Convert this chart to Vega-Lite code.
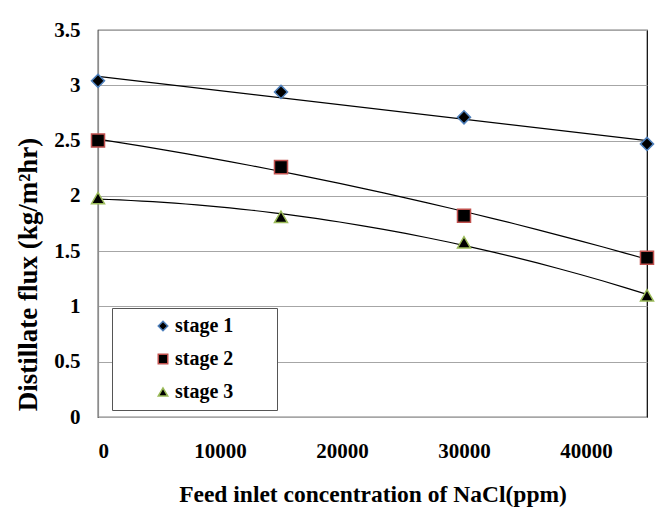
{
  "$schema": "https://vega.github.io/schema/vega-lite/v6.json",
  "width": 549,
  "height": 387,
  "autosize": {"type": "none"},
  "padding": {"left": 98, "top": 30, "right": 9, "bottom": 94},
  "background": "white",
  "config": {
    "font": "Liberation Serif",
    "view": {"stroke": "#000", "strokeWidth": 1.2},
    "axis": {
      "labelFont": "Liberation Serif",
      "labelFontWeight": "bold",
      "labelFontSize": 21,
      "labelColor": "#000",
      "titleFont": "Liberation Serif",
      "titleFontWeight": "bold",
      "titleColor": "#000",
      "ticks": false,
      "tickSize": 0
    },
    "legend": {
      "labelFont": "Liberation Serif",
      "labelFontWeight": "bold",
      "labelFontSize": 20,
      "labelColor": "#000"
    }
  },
  "data": {
    "values": [
      {"stage": "stage 1", "conc": 0, "flux": 3.04},
      {"stage": "stage 1", "conc": 15000, "flux": 2.94},
      {"stage": "stage 1", "conc": 30000, "flux": 2.71},
      {"stage": "stage 1", "conc": 45000, "flux": 2.47},
      {"stage": "stage 2", "conc": 0, "flux": 2.5},
      {"stage": "stage 2", "conc": 15000, "flux": 2.26},
      {"stage": "stage 2", "conc": 30000, "flux": 1.82},
      {"stage": "stage 2", "conc": 45000, "flux": 1.44},
      {"stage": "stage 3", "conc": 0, "flux": 1.98},
      {"stage": "stage 3", "conc": 15000, "flux": 1.81},
      {"stage": "stage 3", "conc": 30000, "flux": 1.58},
      {"stage": "stage 3", "conc": 45000, "flux": 1.1}
    ]
  },
  "encoding": {
    "x": {
      "field": "conc",
      "type": "quantitative",
      "scale": {"domain": [0, 45000], "nice": false, "zero": false},
      "axis": {
        "title": "Feed inlet concentration  of NaCl(ppm)",
        "titleFontSize": 23.5,
        "titleBaseline": "middle",
        "titleY": 77,
        "values": [0, 10000, 20000, 30000, 40000],
        "format": "d",
        "grid": false,
        "domain": false,
        "labelPadding": 23
      }
    },
    "y": {
      "field": "flux",
      "type": "quantitative",
      "scale": {"domain": [0, 3.5], "nice": false},
      "axis": {
        "title": "Distillate flux (kg/m²hr)",
        "titleFontSize": 27,
        "titleBaseline": "middle",
        "titleX": -70,
        "titleY": 244,
        "values": [0, 0.5, 1, 1.5, 2, 2.5, 3, 3.5],
        "format": "~g",
        "grid": true,
        "gridColor": "#a6a6a6",
        "gridWidth": 1.2,
        "domain": true,
        "domainColor": "#8c8c8c",
        "domainWidth": 1.2,
        "labelPadding": 18
      }
    }
  },
  "layer": [
    {
      "transform": [
        {"filter": "datum.stage === 'stage 1'"},
        {"regression": "flux", "on": "conc"}
      ],
      "mark": {"type": "line", "color": "#000", "strokeWidth": 1.2},
      "encoding": {}
    },
    {
      "transform": [
        {"filter": "datum.stage !== 'stage 1'"},
        {"regression": "flux", "on": "conc", "method": "poly", "order": 2, "groupby": ["stage"]}
      ],
      "mark": {"type": "line", "color": "#000", "strokeWidth": 1.2},
      "encoding": {"detail": {"field": "stage", "type": "nominal"}}
    },
    {
      "mark": {"type": "point", "filled": true, "fill": "#000", "size": 170, "strokeWidth": 1.5, "opacity": 1, "clip": false},
      "encoding": {
        "shape": {
          "field": "stage",
          "type": "nominal",
          "scale": {"domain": ["stage 1", "stage 2", "stage 3"], "range": ["diamond", "square", "triangle-up"]},
          "legend": {
            "title": null,
            "orient": "none",
            "legendX": 14,
            "legendY": 278,
            "padding": 8,
            "rowPadding": 13,
            "symbolOffset": 33,
            "symbolSize": 90,
            "symbolFillColor": "#000",
            "symbolStrokeWidth": 1.5,
            "labelOffset": 2,
            "strokeColor": "#555",
            "fillColor": "#fff",
            "labelExpr": "datum.label + '\u00a0\u00a0\u00a0\u00a0\u00a0\u00a0\u00a0\u200b'"
          }
        },
        "stroke": {
          "field": "stage",
          "type": "nominal",
          "scale": {"domain": ["stage 1", "stage 2", "stage 3"], "range": ["#4f81bd", "#c0504d", "#9bbb59"]},
          "legend": {
            "title": null,
            "orient": "none",
            "legendX": 14,
            "legendY": 278,
            "padding": 8,
            "rowPadding": 13,
            "symbolOffset": 33,
            "symbolSize": 90,
            "symbolFillColor": "#000",
            "symbolStrokeWidth": 1.5,
            "labelOffset": 2,
            "strokeColor": "#555",
            "fillColor": "#fff",
            "labelExpr": "datum.label + '\u00a0\u00a0\u00a0\u00a0\u00a0\u00a0\u00a0\u200b'"
          }
        }
      }
    }
  ]
}
